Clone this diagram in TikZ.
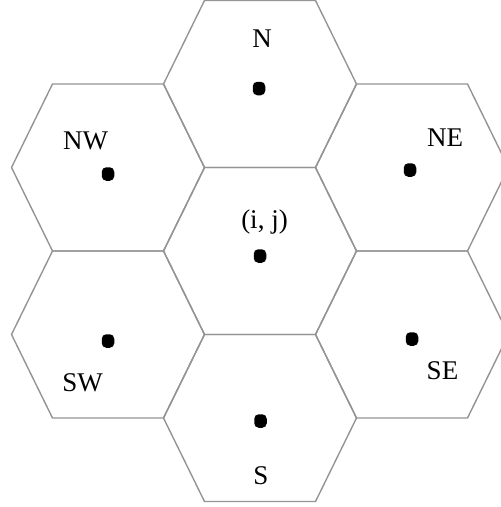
\documentclass[tikz,border=0pt]{standalone}
\usepackage{fontspec}
\setmainfont{Liberation Serif}
\begin{document}
\begin{tikzpicture}[x=1pt,y=-1pt,
  hexline/.style={draw=black!42, line width=1.4pt, line join=round},
  dot/.style={fill=black, rectangle, rounded corners=4.5pt, minimum width=12.5pt, minimum height=13.5pt, inner sep=0pt},
  lbl/.style={anchor=base, inner sep=0pt, font=\fontsize{27}{27}\selectfont}]
\useasboundingbox (0,0) rectangle (501,507);
\clip (0,0) rectangle (501,507);
\def\ha{55.5}\def\hb{96.5}\def\hh{83.5}
\newcommand\hexcell[2]{%
  \draw[hexline] (#1-\ha,#2-\hh) -- (#1+\ha,#2-\hh) -- (#1+\hb,#2) -- (#1+\ha,#2+\hh)
    -- (#1-\ha,#2+\hh) -- (#1-\hb,#2) -- cycle;}
\hexcell{260}{84}
\hexcell{260}{251}
\hexcell{260}{418}
\hexcell{108}{167.5}
\hexcell{108}{334.5}
\hexcell{412}{167.5}
\hexcell{412}{334.5}
% dots
\node[dot] (dN) at (259,88.5) {};
\node[dot] (dC) at (260,256) {};
\node[dot] (dS) at (260.5,421) {};
\node[dot] (dNW) at (108,174) {};
\node[dot] (dSW) at (108,341) {};
\node[dot] (dNE) at (410,170) {};
\node[dot] (dSE) at (412,339) {};
% labels
\node[lbl] (lN) at (262,47) {N};
\node[lbl] (lC) at (264.5,228) {(i, j)};
\node[lbl] (lS) at (261,484) {S};
\node[lbl] (lNW) at (85.5,149) {NW};
\node[lbl] (lSW) at (82.5,391) {SW};
\node[lbl] (lNE) at (445,146) {NE};
\node[lbl] (lSE) at (442.5,379) {SE};
\end{tikzpicture}
\end{document}
